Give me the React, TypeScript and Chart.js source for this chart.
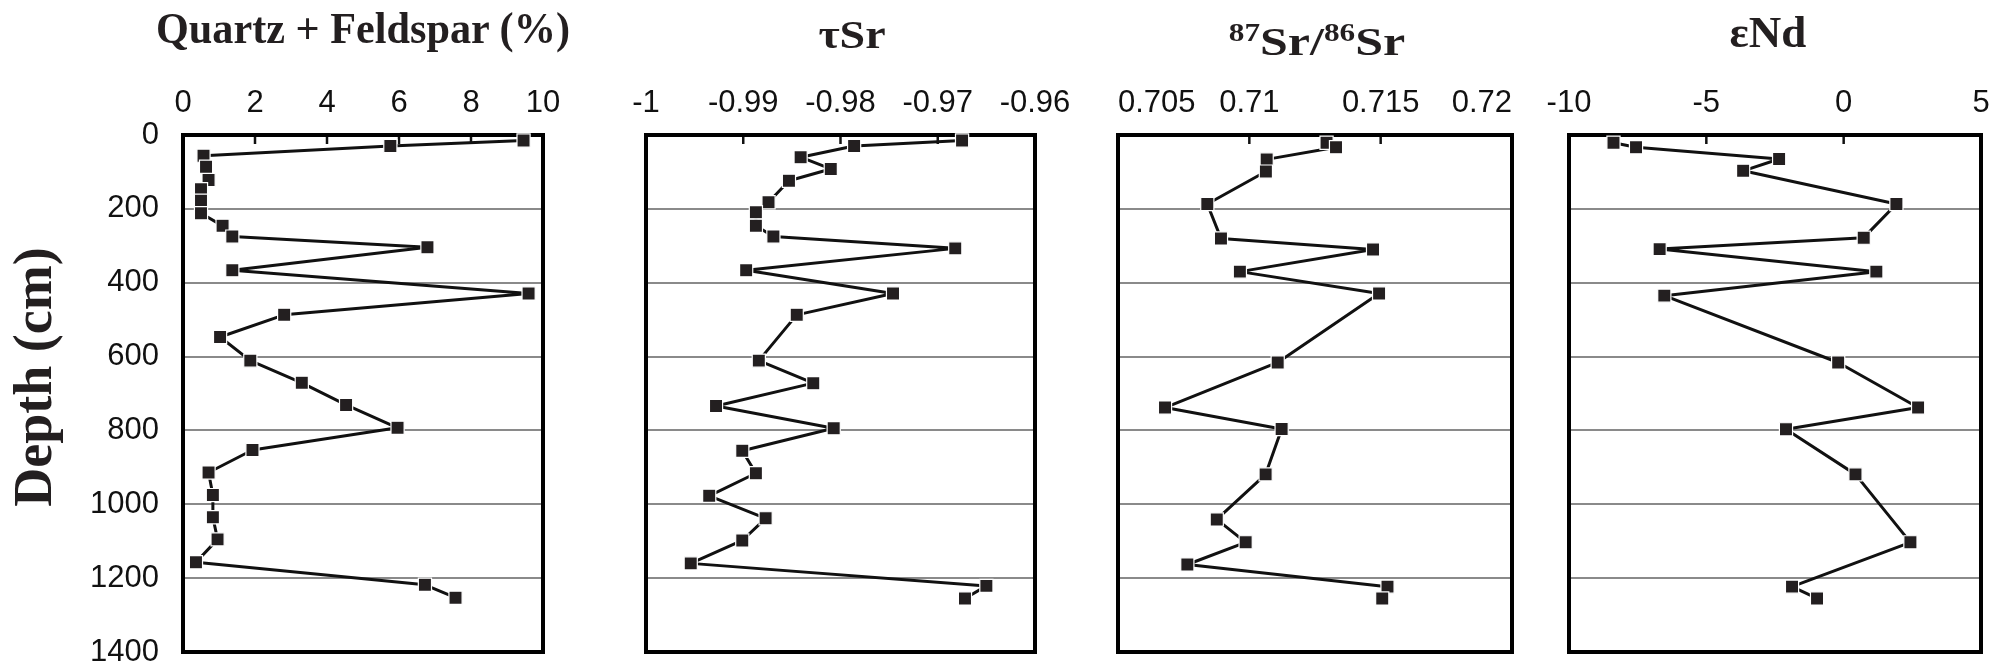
import React, { useEffect, useRef } from "react";
import { Chart, registerables } from "chart.js";

Chart.register(...registerables);

const W = 1995;
const H = 665;

// ---------- data ----------
const depthTicks = [0, 200, 400, 600, 800, 1000, 1200, 1400];
const depthTickLabels = ["0", "200", "400", "600", "800", "1000", "1200", "1400"];

// Quartz + Feldspar (%)
const qfDepth = [15, 30, 56, 86, 122, 147, 178, 212, 246, 275, 304, 366, 429, 487, 547, 611, 671, 731, 793, 853, 914, 975, 1035, 1095, 1157, 1218, 1253];
const qfValue = [9.46, 5.76, 0.57, 0.64, 0.71, 0.5, 0.5, 0.5, 1.1, 1.37, 6.79, 1.37, 9.6, 2.81, 1.03, 1.87, 3.3, 4.53, 5.96, 1.93, 0.71, 0.83, 0.83, 0.96, 0.36, 6.72, 7.57];
const qfTicks = [0, 2, 4, 6, 8, 10];
const qfTickLabels = ["0", "2", "4", "6", "8", "10"];

// tau Sr
const tauDepth = [15, 30, 60, 92, 124, 182, 209, 246, 275, 307, 366, 429, 487, 611, 672, 734, 794, 855, 916, 977, 1038, 1098, 1160, 1221, 1255];
const tauValue = [-0.9675, -0.9786, -0.9841, -0.981, -0.9853, -0.9874, -0.9887, -0.9887, -0.9869, -0.9682, -0.9897, -0.9746, -0.9845, -0.9884, -0.9828, -0.9928, -0.9807, -0.9901, -0.9887, -0.9935, -0.9877, -0.9901, -0.9954, -0.965, -0.9672];
const tauTicks = [-1, -0.99, -0.98, -0.97, -0.96];
const tauTickLabels = ["-1", "-0.99", "-0.98", "-0.97", "-0.96"];

// 87Sr/86Sr
const srDepth = [21, 33, 66, 99, 187, 280, 310, 370, 429, 616, 738, 796, 919, 1041, 1103, 1163, 1223, 1255];
const srValue = [0.71294, 0.7133, 0.71066, 0.71063, 0.7084, 0.70892, 0.71471, 0.70964, 0.71494, 0.71108, 0.70679, 0.71123, 0.71062, 0.70876, 0.70986, 0.70764, 0.71526, 0.71506];
const srTicks = [0.705, 0.71, 0.715, 0.72];
const srTickLabels = ["0.705", "0.71", "0.715", "0.72"];

// epsilon Nd
const ndDepth = [21, 33, 65, 97, 187, 278, 309, 370, 435, 616, 738, 797, 919, 1103, 1223, 1255];
const ndValue = [-8.38, -7.56, -2.35, -3.66, 1.92, 0.73, -6.7, 1.19, -6.53, -0.2, 2.71, -2.1, 0.43, 2.43, -1.88, -0.97];
const ndTicks = [-10, -5, 0, 5];
const ndTickLabels = ["-10", "-5", "0", "5"];

// ---------- styling / layout ----------
const TICK_FONT = '"Liberation Sans", Arial, sans-serif';
const TITLE_FONT = '"Liberation Serif", "Times New Roman", serif';

const framePlugin = {
  id: "frame",
  beforeDatasetsDraw(chart: any) {
    const { ctx, chartArea: a } = chart;
    const xs = chart.scales.x;
    ctx.save();
    ctx.strokeStyle = "#111";
    ctx.lineWidth = 2.5;
    const t = xs.ticks;
    for (let i = 1; i < t.length - 1; i++) {
      const px = xs.getPixelForValue(t[i].value);
      ctx.beginPath();
      ctx.moveTo(px, a.top);
      ctx.lineTo(px, a.top + 9);
      ctx.stroke();
    }
    ctx.strokeStyle = "#000";
    ctx.lineWidth = 4;
    ctx.strokeRect(a.left, a.top, a.right - a.left, a.bottom - a.top);
    ctx.restore();
  },
};

type PanelProps = {
  depth: number[];
  values: number[];
  xTicks: number[];
  xLabels: string[];
  left: number;
  right: number;
  showY: boolean;
  align: "center" | "inner";
};

const TOP = 135;
const BOTTOM = 652;
const X_AXIS_H = 80;
const Y_AXIS_W = 170;

const zeroPad = (s: any) => {
  s.paddingTop = 0;
  s.paddingBottom = 0;
  s.paddingLeft = 0;
  s.paddingRight = 0;
};

function Panel(p: PanelProps) {
  const ref = useRef<HTMLCanvasElement | null>(null);
  useEffect(() => {
    if (!ref.current) return;
    const yW = p.showY ? Y_AXIS_W : 0;
    const chart = new Chart(ref.current, {
      type: "scatter",
      data: {
        datasets: [
          {
            data: p.depth.map((d, i) => ({ x: p.values[i], y: d })),
            showLine: true,
            borderColor: "#111",
            borderWidth: 3,
            borderJoinStyle: "round",
            borderCapStyle: "round",
            pointStyle: "rect",
            pointRadius: 9.3,
            pointBackgroundColor: "#231f20",
            pointBorderColor: "#ffffff",
            pointBorderWidth: 1.2,
            clip: false,
            tension: 0,
          } as any,
        ],
      },
      options: {
        responsive: false,
        animation: false,
        devicePixelRatio: 1,
        events: [],
        layout: {
          padding: { left: p.left - yW, top: TOP - X_AXIS_H, right: W - p.right, bottom: H - BOTTOM },
        },
        plugins: { legend: { display: false }, tooltip: { enabled: false } },
        scales: {
          x: {
            type: "linear",
            position: "top",
            min: p.xTicks[0],
            max: p.xTicks[p.xTicks.length - 1],
            afterBuildTicks: (s: any) => {
              s.ticks = p.xTicks.map((v) => ({ value: v }));
            },
            afterFit: (s: any) => {
              s.height = X_AXIS_H;
              zeroPad(s);
            },
            grid: { display: false, drawTicks: false },
            border: { display: false },
            ticks: {
              padding: 13,
              autoSkip: false,
              maxRotation: 0,
              align: p.align,
              color: "#111",
              font: { family: TICK_FONT, size: 31 },
              callback: (_v: any, i: number) => p.xLabels[i],
            },
          },
          y: {
            type: "linear",
            reverse: true,
            min: depthTicks[0],
            max: depthTicks[depthTicks.length - 1],
            afterBuildTicks: (s: any) => {
              s.ticks = depthTicks.map((v) => ({ value: v }));
            },
            afterFit: (s: any) => {
              s.width = yW;
              zeroPad(s);
            },
            grid: { color: "#8a8a8a", lineWidth: 2, drawTicks: false },
            border: { display: false },
            ticks: {
              display: p.showY,
              padding: 24,
              color: "#111",
              font: { family: TICK_FONT, size: 31 },
              callback: (_v: any, i: number) => depthTickLabels[i],
            },
          },
        },
      } as any,
      plugins: [framePlugin],
    });
    return () => chart.destroy();
  }, []);
  return (
    <canvas
      ref={ref}
      width={W}
      height={H}
      style={{ position: "absolute", left: 0, top: 0, width: W, height: H }}
    />
  );
}

function Title(props: { cx: number; baseline: number; size: number; sx: number; children: any }) {
  const { cx, baseline, size, sx, children } = props;
  return (
    <div
      style={{
        position: "absolute",
        left: cx,
        top: baseline - 0.8375 * size,
        fontFamily: TITLE_FONT,
        fontWeight: "bold",
        fontSize: size,
        lineHeight: `${size}px`,
        whiteSpace: "nowrap",
        color: "#231f20",
        transform: `translateX(-50%) scaleX(${sx})`,
      }}
    >
      {children}
    </div>
  );
}

const sup = (t: string) => (
  <span style={{ fontSize: 25, position: "relative", top: -14 }}>{t}</span>
);

export default function App() {
  useEffect(() => {
    document.body.style.margin = "0";
  }, []);
  return (
    <div style={{ position: "absolute", left: 0, top: 0, width: W, height: H, background: "#fff", overflow: "hidden" }}>
      <Panel depth={qfDepth} values={qfValue} xTicks={qfTicks} xLabels={qfTickLabels} left={183} right={543} showY={true} align="center" />
      <Panel depth={tauDepth} values={tauValue} xTicks={tauTicks} xLabels={tauTickLabels} left={646} right={1035} showY={false} align="center" />
      <Panel depth={srDepth} values={srValue} xTicks={srTicks} xLabels={srTickLabels} left={1118} right={1512} showY={false} align="inner" />
      <Panel depth={ndDepth} values={ndValue} xTicks={ndTicks} xLabels={ndTickLabels} left={1569} right={1981} showY={false} align="center" />

      <Title cx={363} baseline={43.5} size={44} sx={0.96}>Quartz + Feldspar (%)</Title>
      <Title cx={852} baseline={48} size={40} sx={1.15}>τSr</Title>
      <Title cx={1317} baseline={55} size={40} sx={1.25}>
        {sup("87")}Sr/{sup("86")}Sr
      </Title>
      <Title cx={1768} baseline={48} size={45} sx={1}>εNd</Title>

      <div
        style={{
          position: "absolute",
          left: 33 - 200,
          top: 376.5 - 27,
          width: 400,
          height: 54,
          lineHeight: "54px",
          textAlign: "center",
          fontFamily: TITLE_FONT,
          fontWeight: "bold",
          fontSize: 54,
          color: "#231f20",
          transform: "rotate(-90deg)",
          whiteSpace: "nowrap",
        }}
      >
        Depth (cm)
      </div>
    </div>
  );
}
